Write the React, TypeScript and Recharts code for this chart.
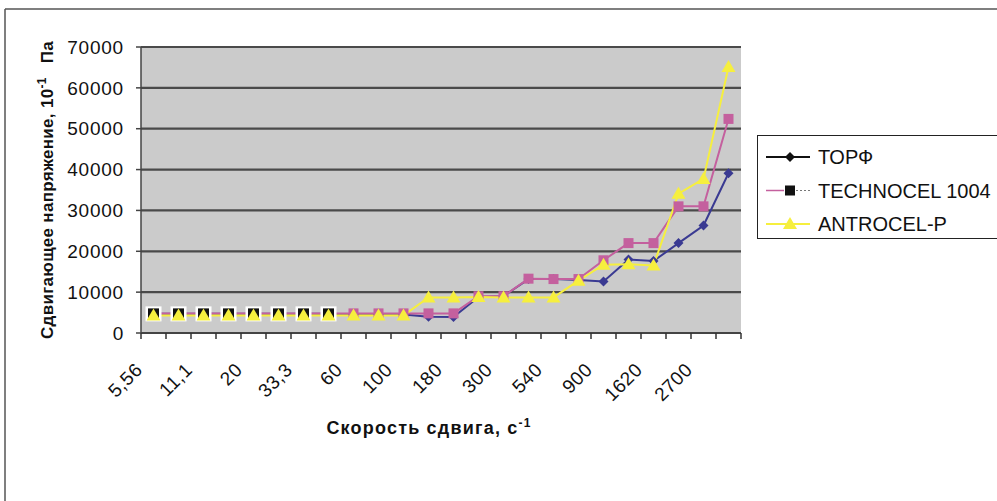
import React from "react";
import { LineChart, Line, XAxis, YAxis, CartesianGrid } from "recharts";

// shear rate categories (only every other one is labelled on the axis)
const shearRates = [
  "5,56", "10", "11,1", "18", "20", "30", "33,3", "54", "60", "90", "100", "162",
  "180", "270", "300", "486", "540", "810", "900", "1458", "1620", "2430", "2700", "4374",
];

// shear stress, 10^-1 Pa
const torf = [
  4700, 4700, 4700, 4700, 4700, 4700, 4700, 4700, 4500, 4500, 4500, 4000,
  3900, 8800, 9000, 13200, 13200, 13000, 12600, 18000, 17600, 22000, 26300, 39100,
];
const technocel = [
  4800, 4800, 4800, 4800, 4800, 4800, 4800, 4800, 4800, 4800, 4800, 4800,
  4800, 9000, 9000, 13300, 13200, 13200, 17800, 22000, 22000, 31000, 31000, 52400,
];
const antrocel = [
  4300, 4300, 4300, 4300, 4300, 4300, 4300, 4300, 4300, 4300, 4300, 8700,
  8700, 8800, 8700, 8700, 8700, 12800, 16700, 16800, 16500, 34100, 37700, 65100,
];

const yTicks = [0, 10000, 20000, 30000, 40000, 50000, 60000, 70000];

const BLUE = "#3a3a92";
const PINK = "#c4609e";
const YELLOW = "#f6ef3e";
const FONT = 'Arial, "Liberation Sans", sans-serif';

const data = shearRates.map((rate, i) => ({
  rate,
  torf: torf[i],
  technocel: technocel[i],
  antrocel: antrocel[i],
}));

const HALF_BAND = 12.5;

const XTick = ({ x, y, payload, index }: any) => {
  const lx = x - 10;
  const ly = y + 38;
  return (
    <g>
      <line x1={x - HALF_BAND} y1={y} x2={x - HALF_BAND} y2={y + 6} stroke="#333" strokeWidth={1.5} />
      {index === shearRates.length - 1 && (
        <line x1={x + HALF_BAND} y1={y} x2={x + HALF_BAND} y2={y + 6} stroke="#333" strokeWidth={1.5} />
      )}
      {index % 2 === 0 && (
        <text
          x={lx}
          y={ly}
          transform={`rotate(-45 ${lx} ${ly})`}
          textAnchor="end"
          fontSize={19}
          letterSpacing={0.5}
          fontFamily={FONT}
          fill="#111"
        >
          {payload.value}
        </text>
      )}
    </g>
  );
};

const Diamond = ({ cx, cy }: any) => (
  <path d={`M${cx},${cy - 5} L${cx + 5},${cy} L${cx},${cy + 5} L${cx - 5},${cy} Z`} fill={BLUE} />
);

// first points of the scan show up as black squares in a white box
const Square = ({ cx, cy, index }: any) =>
  index < 8 ? (
    <g>
      <rect x={cx - 8} y={cy - 7} width={16} height={15} fill="#fff" />
      <rect x={cx - 5.5} y={cy - 5} width={11} height={10} fill="#111" />
    </g>
  ) : (
    <rect x={cx - 5} y={cy - 5} width={10} height={10} fill={PINK} />
  );

const Triangle = ({ cx, cy }: any) => (
  <path d={`M${cx},${cy - 7} L${cx + 7},${cy + 5} L${cx - 7},${cy + 5} Z`} fill={YELLOW} />
);

const legendRows = [
  { name: "ТОРФ", kind: "diamond" },
  { name: "TECHNOCEL 1004", kind: "square" },
  { name: "ANTROCEL-P", kind: "triangle" },
];

const LegendBox = () => (
  <div
    style={{
      position: "absolute",
      left: 757,
      top: 135,
      width: 240,
      height: 104,
      borderLeft: "1.5px solid #222",
      borderTop: "1.5px solid #222",
      borderBottom: "1.5px solid #222",
      boxSizing: "border-box",
    }}
  >
    <svg width={240} height={104} style={{ position: "absolute", left: 0, top: 0 }}>
      {legendRows.map((row, i) => {
        const cy = 21 + i * 33.5;
        return (
          <g key={row.name}>
            {row.kind === "diamond" && (
              <>
                <line x1={8} y1={cy} x2={52} y2={cy} stroke="#111" strokeWidth={2} />
                <path d={`M32,${cy - 5} L37,${cy} L32,${cy + 5} L27,${cy} Z`} fill="#111" />
              </>
            )}
            {row.kind === "square" && (
              <>
                <line x1={8} y1={cy} x2={26} y2={cy} stroke={PINK} strokeWidth={1.5} />
                <line x1={38} y1={cy} x2={54} y2={cy} stroke="#777" strokeWidth={1.2} strokeDasharray="2 2" />
                <rect x={27} y={cy - 5} width={10} height={10} fill="#111" />
              </>
            )}
            {row.kind === "triangle" && (
              <>
                <line x1={8} y1={cy} x2={52} y2={cy} stroke={YELLOW} strokeWidth={2} />
                <path d={`M32,${cy - 7} L39,${cy + 5} L25,${cy + 5} Z`} fill={YELLOW} />
              </>
            )}
            <text x={60} y={cy + 7} fontSize={20} fontFamily={FONT} fill="#111">
              {row.name}
            </text>
          </g>
        );
      })}
    </svg>
  </div>
);

export default function App() {
  return (
    <div
      style={{
        position: "absolute",
        left: 0,
        top: 0,
        width: 997,
        height: 501,
        overflow: "hidden",
        background: "#fff",
      }}
    >
      <LineChart
        width={997}
        height={501}
        data={data}
        margin={{ top: 47, right: 256, bottom: 88, left: 81 }}
      >
        <CartesianGrid
          horizontal
          vertical={false}
          fill="#cbcbcb"
          fillOpacity={1}
          stroke="#4a4a4a"
          strokeWidth={2.2}
        />
        <XAxis
          dataKey="rate"
          scale="point"
          padding={{ left: HALF_BAND, right: HALF_BAND }}
          interval={0}
          height={80}
          tickLine={false}
          tickSize={0}
          tickMargin={0}
          axisLine={{ stroke: "#444", strokeWidth: 2 }}
          tick={<XTick />}
        />
        <YAxis
          width={60}
          domain={[0, 70000]}
          ticks={yTicks}
          interval={0}
          tickSize={5}
          tickMargin={12}
          axisLine={{ stroke: "#444", strokeWidth: 1.5 }}
          tickLine={{ stroke: "#444", strokeWidth: 1.5 }}
          tick={{ fontSize: 19, fontFamily: FONT, fill: "#111", letterSpacing: 0.8 }}
        />
        <Line
          dataKey="torf"
          stroke={BLUE}
          strokeWidth={2}
          dot={(p: any) => <Diamond key={`t-${p.index}`} {...p} />}
          isAnimationActive={false}
        />
        <Line
          dataKey="technocel"
          stroke={PINK}
          strokeWidth={2}
          dot={(p: any) => <Square key={`s-${p.index}`} {...p} />}
          isAnimationActive={false}
        />
        <Line
          dataKey="antrocel"
          stroke={YELLOW}
          strokeWidth={2}
          dot={(p: any) => <Triangle key={`a-${p.index}`} {...p} />}
          isAnimationActive={false}
        />
      </LineChart>

      <svg
        width={997}
        height={501}
        style={{ position: "absolute", left: 0, top: 0, pointerEvents: "none" }}
      >
        {/* outer chart frame, cut off on the right and bottom */}
        <line x1={5} y1={9} x2={997} y2={9} stroke="#555" strokeWidth={1.5} />
        <line x1={5} y1={9} x2={5} y2={501} stroke="#555" strokeWidth={1.5} />

        <text
          x={53}
          y={190}
          transform="rotate(-90 53 190)"
          textAnchor="middle"
          fontSize={17}
          fontWeight="bold"
          fontFamily={FONT}
          letterSpacing={0.3}
          fill="#111"
        >
          Сдвигающее напряжение, 10
          <tspan fontSize={12} dy={-7}>-1</tspan>
          <tspan dy={7} dx={14}>Па</tspan>
        </text>

        <text
          x={429}
          y={434}
          textAnchor="middle"
          fontSize={18}
          fontWeight="bold"
          fontFamily={FONT}
          letterSpacing={1.2}
          fill="#111"
        >
          Скорость сдвига, с
          <tspan fontSize={12} dy={-7}>-1</tspan>
        </text>
      </svg>

      <LegendBox />
    </div>
  );
}
